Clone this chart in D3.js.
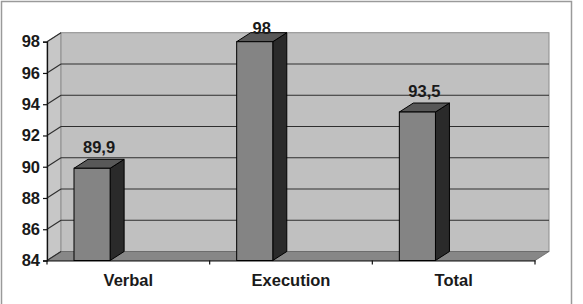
<!DOCTYPE html>
<html>
<head>
<meta charset="utf-8">
<script src="https://cdn.jsdelivr.net/npm/d3@7"></script>
<style>
  body { margin: 0; background: #fff; }
  svg { display: block; font-family: "Liberation Sans", Arial, sans-serif; }
</style>
</head>
<body>
<div id="chart"></div>
<script>
// data
const categories = ["Verbal", "Execution", "Total"];
const values = [89.9, 98, 93.5];
const valueLabels = ["89,9", "98", "93,5"];
const yTicks = [84, 86, 88, 90, 92, 94, 96, 98];

const W = 583, H = 304;
const depth = { dx: 14, dy: -9 };   // 3d offset

const svg = d3.select("#chart").append("svg")
    .attr("width", W)
    .attr("height", H);

// outer frame
svg.append("rect")
    .attr("x", 1.5).attr("y", 1.5)
    .attr("width", 570).attr("height", 320)
    .attr("fill", "none")
    .attr("stroke", "#9a9a9a")
    .attr("stroke-width", 1.5);

const x = d3.scaleBand().domain(categories).range([47, 535]);
const y = d3.scaleLinear().domain([84, 98]).range([260.5, 41.7]);

const x0 = x.range()[0], x1 = x.range()[1];
const yb = y(84), yt = y(98);

// side wall
svg.append("polygon")
    .attr("points", [[x0, yb], [x0, yt], [x0 + depth.dx, yt + depth.dy], [x0 + depth.dx, yb + depth.dy]].join(" "))
    .attr("fill", "#c7c7c7")
    .attr("stroke", "#999")
    .attr("stroke-width", 1);

// back wall
svg.append("rect")
    .attr("x", x0 + depth.dx)
    .attr("y", yt + depth.dy)
    .attr("width", x1 - x0)
    .attr("height", yb - yt)
    .attr("fill", "#c0c0c0")
    .attr("stroke", "#8c8c8c")
    .attr("stroke-width", 1);

// floor
svg.append("polygon")
    .attr("points", [[x0, yb], [x1, yb], [x1 + depth.dx, yb + depth.dy], [x0 + depth.dx, yb + depth.dy]].join(" "))
    .attr("fill", "#878787")
    .attr("stroke", "#666")
    .attr("stroke-width", 0.8);

// gridlines on back wall + diagonal lines on side wall
const grid = svg.append("g").attr("class", "grid");
yTicks.slice(1, -1).forEach(t => {
    grid.append("line")
        .attr("x1", x0 + depth.dx).attr("x2", x1 + depth.dx)
        .attr("y1", y(t) + depth.dy).attr("y2", y(t) + depth.dy)
        .attr("stroke", "#2e2e2e")
        .attr("stroke-width", 1.1);
});
yTicks.forEach(t => {
    grid.append("line")
        .attr("x1", x0).attr("x2", x0 + depth.dx)
        .attr("y1", y(t)).attr("y2", y(t) + depth.dy)
        .attr("stroke", "#2e2e2e")
        .attr("stroke-width", 1.1);
});

// y axis
const yAxis = svg.append("g")
    .attr("transform", `translate(${x0},0)`)
    .call(d3.axisLeft(y).tickValues(yTicks).tickSize(4).tickPadding(3));
yAxis.select(".domain").attr("stroke", "#111").attr("stroke-width", 1.3);
yAxis.selectAll(".tick line").attr("stroke", "#111").attr("stroke-width", 1.2);
yAxis.selectAll("text")
    .style("font-size", "16.5px")
    .style("font-weight", "bold")
    .attr("fill", "#1a1a1a");

// x axis
const xAxis = svg.append("g")
    .attr("transform", `translate(0,${yb})`)
    .call(d3.axisBottom(x).tickSize(0).tickPadding(14));
xAxis.select(".domain").attr("stroke", "#111").attr("stroke-width", 1.2);
xAxis.selectAll("text")
    .style("font-size", "16.5px")
    .style("font-weight", "bold")
    .attr("fill", "#1a1a1a");
// category separators
const sep = categories.map(c => x(c)).concat([x1]);
svg.append("g").selectAll("line")
    .data(sep)
    .join("line")
    .attr("x1", d => d).attr("x2", d => d)
    .attr("y1", yb).attr("y2", yb + 4)
    .attr("stroke", "#111")
    .attr("stroke-width", 1.2);

// bars
const bw = x.bandwidth();
const bars = svg.append("g").selectAll("g")
    .data(categories.map((c, i) => ({ c, v: values[i], label: valueLabels[i] })))
    .join("g");

bars.each(function(d) {
    const g = d3.select(this);
    const l = x(d.c) + bw * 0.166;
    const r = l + bw * 0.222;
    const top = y(d.v);
    // side
    g.append("polygon")
        .attr("points", [[r, top], [r + depth.dx, top + depth.dy], [r + depth.dx, yb + depth.dy], [r, yb]].join(" "))
        .attr("fill", "#2a2a2a")
        .attr("stroke", "#000")
        .attr("stroke-width", 1);
    // top
    g.append("polygon")
        .attr("points", [[l, top], [l + depth.dx, top + depth.dy], [r + depth.dx, top + depth.dy], [r, top]].join(" "))
        .attr("fill", "#585858")
        .attr("stroke", "#000")
        .attr("stroke-width", 1);
    // front
    g.append("rect")
        .attr("x", l).attr("y", top)
        .attr("width", r - l).attr("height", yb - top)
        .attr("fill", "#848484")
        .attr("stroke", "#000")
        .attr("stroke-width", 1);
    // value label
    g.append("text")
        .attr("x", (l + r) / 2 + depth.dx / 2)
        .attr("y", Math.max(top + depth.dy - 6, 34))
        .attr("text-anchor", "middle")
        .style("font-size", "16.5px")
        .style("font-weight", "bold")
        .attr("fill", "#1a1a1a")
        .text(d.label);
});
</script>
</body>
</html>
